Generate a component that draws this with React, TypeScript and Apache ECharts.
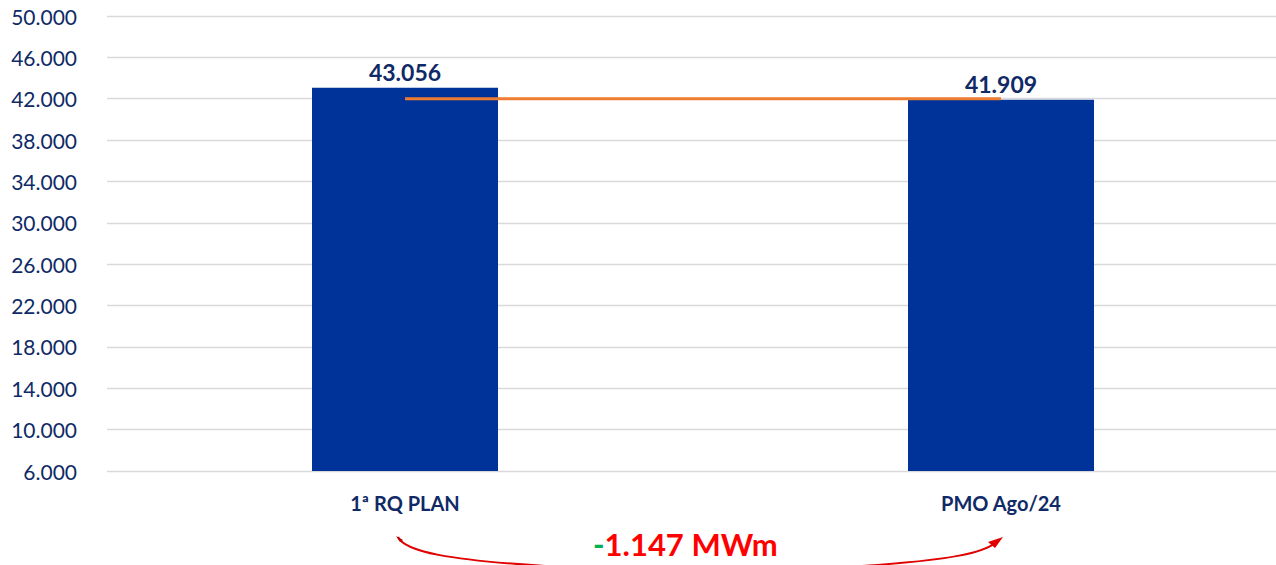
import React, { useEffect, useRef } from "react";
import * as echarts from "echarts";

const categories = ["1ª RQ PLAN", "PMO Ago/24"];
const barValues = [43056, 41909];
const refLine = [42000, 42000];
const yTicks = { min: 6000, max: 50000, interval: 4000 };
const deltaSign = "-";
const deltaText = "1.147 MWm";

const fmt = (v: number) => v.toLocaleString("de-DE");
const FONT = "Lato, 'Open Sans', sans-serif";
const NAVY = "#0F2A66";

export default function App() {
  const ref = useRef<HTMLDivElement>(null);
  useEffect(() => {
    document.body.style.margin = "0";
    const chart = echarts.init(ref.current!, null, { renderer: "svg" });
    chart.setOption({
      animation: false,
      grid: { left: 107, right: 0, top: 16, height: 455 },
      xAxis: {
        type: "category",
        data: categories,
        axisLine: { show: false },
        axisTick: { show: false },
        axisLabel: { color: NAVY, fontWeight: "bold", fontSize: 20, fontFamily: FONT, margin: 22 },
      },
      yAxis: {
        type: "value",
        min: yTicks.min,
        max: yTicks.max,
        interval: yTicks.interval,
        axisLine: { show: false },
        axisTick: { show: false },
        axisLabel: { color: NAVY, fontSize: 21, fontFamily: FONT, margin: 30, formatter: (v: number) => fmt(v) },
        splitLine: { lineStyle: { color: "#D9D9D9", width: 1.3 } },
      },
      series: [
        {
          type: "bar",
          data: barValues,
          barWidth: 186,
          itemStyle: { color: "#003399" },
          label: {
            show: true,
            position: "top",
            distance: 4,
            color: NAVY,
            fontWeight: "bold",
            fontSize: 23,
            fontFamily: FONT,
            formatter: (p: any) => fmt(p.value),
          },
        },
        {
          type: "line",
          data: refLine,
          symbol: "none",
          lineStyle: { color: "#ED7D31", width: 3 },
          z: 5,
        },
      ],
      graphic: [
        {
          type: "text",
          left: 593,
          top: 528,
          style: {
            rich: {
              g: { fill: "#00B050", fontSize: 31, fontWeight: "bold", fontFamily: FONT },
              r: { fill: "#FF0000", fontSize: 31, fontWeight: "bold", fontFamily: FONT },
            },
            text: `{g|${deltaSign}}{r|${deltaText}}`,
          },
        },
        {
          type: "bezierCurve",
          shape: { x1: 398, y1: 537, cpx1: 405, cpy1: 552, cpx2: 450, cpy2: 560, x2: 545, y2: 566 },
          style: { stroke: "#E00000", lineWidth: 2, fill: null },
        },
        {
          type: "polygon",
          shape: { points: [[396, 536], [403, 540], [400, 542]] },
          style: { fill: "#C00000" },
        },
        {
          type: "bezierCurve",
          shape: { x1: 862, y1: 566, cpx1: 950, cpy1: 560, cpx2: 985, cpy2: 553, x2: 996, y2: 542 },
          style: { stroke: "#E00000", lineWidth: 2, fill: null },
        },
        {
          type: "polygon",
          shape: { points: [[1003, 537], [988, 542], [995, 548]] },
          style: { fill: "#E00000" },
        },
      ],
    });
    return () => chart.dispose();
  }, []);
  return (
    <div style={{ width: 1276, height: 565, overflow: "hidden", position: "relative" }}>
      <div ref={ref} style={{ width: 1299, height: 565 }} />
    </div>
  );
}
